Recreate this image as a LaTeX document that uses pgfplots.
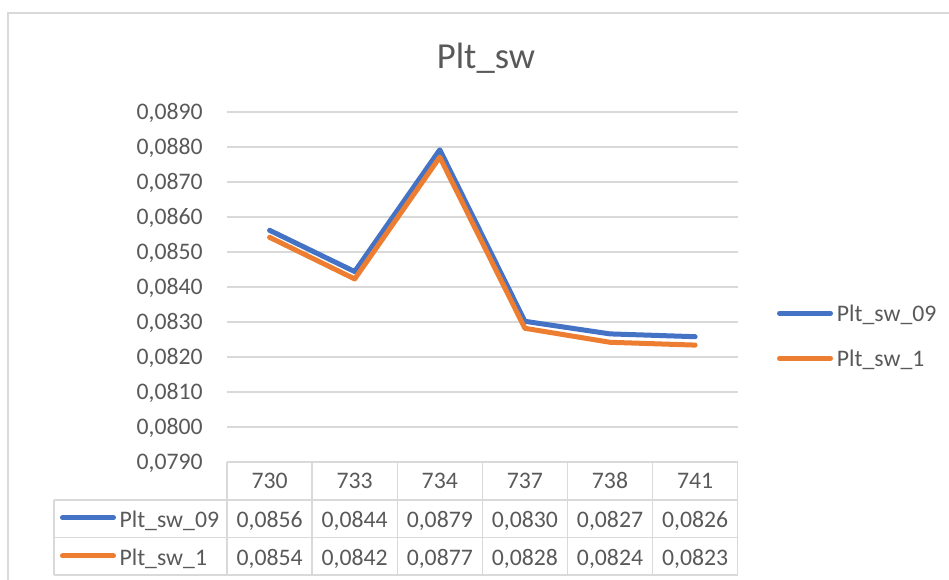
\documentclass[border=0pt]{standalone}
\usepackage{pgfplots}
\pgfplotsset{compat=1.18}
\usepackage{fontspec}
\setmainfont{Carlito}
\definecolor{sblue}{RGB}{68,114,196}
\definecolor{sorange}{RGB}{237,125,49}
\definecolor{txt}{RGB}{89,89,89}
\definecolor{grd}{RGB}{217,217,217}
\newcommand\tf{\fontsize{17.8}{20}\selectfont}
\begin{document}
\begin{tikzpicture}
\begin{axis}[
  scale only axis, width=383pt, height=262.5pt,
  at={(0,0)}, anchor=south west,
  xmin=-0.5, xmax=5.5, ymin=0.079, ymax=0.089,
  ytick={0.079,0.080,0.081,0.082,0.083,0.084,0.085,0.086,0.087,0.088,0.089},
  xtick={0,1,2,3,4,5},
  xticklabels={730,733,734,737,738,741},
  scaled y ticks=false,
  axis line style={draw=none},
  tick style={draw=none}, major tick length=0pt,
  ymajorgrids, grid style={grd, line width=1pt},
  xticklabel style={anchor=base, inner sep=0pt, yshift=-20.1pt, font=\tf, text=txt},
  yticklabel style={anchor=base east, inner sep=0pt, xshift=-18pt, yshift=-5.7pt, font=\tf, text=txt},
  /pgf/number format/.cd, fixed, fixed zerofill, precision=4, use comma, assume math mode=true,
  /pgfplots/.cd,
  clip=false,
]
\addplot[sblue, line width=3.75pt, line cap=round, line join=round] coordinates
  {(0,0.08562)(1,0.08444)(2,0.08792)(3,0.08302)(4,0.08266)(5,0.08258)};
\addplot[sorange, line width=3.75pt, line cap=round, line join=round] coordinates
  {(0,0.08542)(1,0.08423)(2,0.08771)(3,0.08282)(4,0.08242)(5,0.08234)};
\end{axis}
\begin{scope}[x=0.75pt,y=-0.75pt,shift={(-170.25pt,346.5pt)}]
  % outer frame
  \draw[grd, line width=1pt] (8,580) -- (8,13) -- (949,13);
  % title
  \node[anchor=base, inner sep=0pt, font=\fontsize{27.5}{30}\selectfont, text=txt] at (486,69) {Plt\_sw};
  % table grid
  \draw[grd, line width=1pt] (227,462.5) -- (737.7,462.5);
  \foreach \yy in {500,537.5,575} \draw[grd, line width=1pt] (54,\yy) -- (737.7,\yy);
  \draw[grd, line width=1pt] (54,500) -- (54,575);
  \foreach \xx in {227,312.1,397.2,482.4,567.5,652.6,737.7} \draw[grd, line width=1pt] (\xx,462.5) -- (\xx,575);
  % table values
  \foreach \xx/\a/\b in {269.6/0856/0854, 354.7/0844/0842, 439.8/0879/0877,
                         524.9/0830/0828, 610.0/0827/0824, 695.2/0826/0823} {
    \node[anchor=base, inner sep=0pt, font=\tf, text=txt] at (\xx,527.5) {0,\a};
    \node[anchor=base, inner sep=0pt, font=\tf, text=txt] at (\xx,565.7) {0,\b};
  }
  % table legend keys
  \draw[sblue, line width=3.75pt, line cap=round] (62.5,517.7) -- (113.5,517.7);
  \node[anchor=base west, inner sep=0pt, font=\tf, text=txt] at (119.3,527.5) {Plt\_sw\_09};
  \draw[sorange, line width=3.75pt, line cap=round] (62.5,556) -- (113.5,556);
  \node[anchor=base west, inner sep=0pt, font=\tf, text=txt] at (119.3,565.7) {Plt\_sw\_1};
  % right legend
  \draw[sblue, line width=3.75pt, line cap=round] (779.5,313.3) -- (830.5,313.3);
  \node[anchor=base west, inner sep=0pt, font=\tf, text=txt] at (836.7,321.7) {Plt\_sw\_09};
  \draw[sorange, line width=3.75pt, line cap=round] (779.5,358.3) -- (830.5,358.3);
  \node[anchor=base west, inner sep=0pt, font=\tf, text=txt] at (836.7,366.7) {Plt\_sw\_1};
  \pgfresetboundingbox
  \useasboundingbox (0,0) rectangle (949,580);
\end{scope}
\end{tikzpicture}
\end{document}
